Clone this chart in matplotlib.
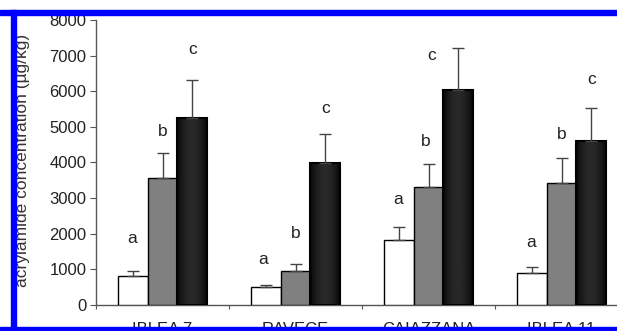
import matplotlib
matplotlib.use("Agg")
import matplotlib.pyplot as plt
import numpy as np
from matplotlib.patches import Rectangle

plt.rcParams['font.family'] = ['Liberation Sans', 'DejaVu Sans']

categories = ["IBLEA 7", "RAVECE", "CAIAZZANA", "IBLEA 11"]
series1 = [815, 515, 1825, 905]
series1_err = [150, 40, 360, 170]
series2 = [3560, 965, 3315, 3425]
series2_err = [700, 180, 645, 695]
series3 = [5240, 3995, 6035, 4615]
series3_err = [1065, 815, 1170, 905]
letters = ["a", "b", "c"]
letter_y = [[1880, 4860, 7160], [1290, 2010, 5520], [2950, 4590, 6990], [1760, 4790, 6320]]
letter_dx = [[0, 0, 0], [-0.02, 0, 0], [0, -0.02, -0.2], [0, 0, 0]]
yticks = [0, 1000, 2000, 3000, 4000, 5000, 6000, 7000, 8000]

W, H = 617, 331
fig = plt.figure(figsize=(W / 100, H / 100), dpi=100)
ax = fig.add_axes([96 / W, (H - 305) / H, (628 - 96) / W, (305 - 20) / H])

x = np.arange(len(categories)) + 0.5
bw = 0.225
offs = [-bw, 0, bw]
vals = [series1, series2, series3]
errs = [series1_err, series2_err, series3_err]
faces = ["white", "#808080", "none"]
axis_col = "#555555"

t = np.linspace(0, 1, 64)
black_profile = 0.03 + 0.13 * (1 - np.abs(2 * t - 1) ** 2)

for k in range(3):
    bars = ax.bar(x + offs[k], vals[k], width=bw, color=faces[k], edgecolor="black",
                  linewidth=1.0 if k < 2 else 1.5, zorder=3)
    for i, b in enumerate(bars):
        grad = None
        if k == 2:
            grad = black_profile
        elif k == 1 and i == 3:
            grad = 0.46 + 0.16 * t
        if grad is not None:
            x0 = b.get_x()
            im = ax.imshow(grad[None, :], cmap="gray", vmin=0, vmax=1, aspect="auto",
                           extent=(x0, x0 + bw, 0, b.get_height()), zorder=2,
                           interpolation="bilinear")
            im.set_clip_path(b)
    ax.errorbar(x + offs[k], vals[k], yerr=[np.zeros(4), errs[k]], fmt="none",
                ecolor="#444444", elinewidth=1.0, capsize=4.5, capthick=1.0, zorder=4)
    for i in range(4):
        ax.text(x[i] + offs[k] + letter_dx[i][k], letter_y[i][k], letters[k],
                ha="center", va="center", fontsize=12.5, color="#222222")

ax.set_xlim(0, 4)
ax.set_ylim(0, 8000)

for s in ["top", "right"]:
    ax.spines[s].set_visible(False)
for s in ["left", "bottom"]:
    ax.spines[s].set_color(axis_col)
    ax.spines[s].set_linewidth(1.0)

ax.set_yticks(yticks)
ax.set_yticklabels([str(v) for v in yticks], fontsize=12, color="#222222")
ax.set_xticks([0, 1, 2, 3, 4])
ax.set_xticklabels([])
ax.tick_params(axis="y", direction="out", length=4, color=axis_col, pad=3)
ax.tick_params(axis="x", direction="out", length=3, color=axis_col)
for i, c in enumerate(categories):
    ax.text(x[i], -0.058, c, transform=ax.get_xaxis_transform(), ha="center", va="top",
            fontsize=12, color="#222222")

fig.text(23 / W, 1 - 160 / H, "acrylamide concentration (µg/kg)", rotation=90,
         ha="center", va="center", fontsize=12.5, color="#333333")

# blue frame
blue = "#0000ff"
fig.patches.append(Rectangle((0, 1 - 15 / H), 1, 5 / H, transform=fig.transFigure,
                             color=blue, zorder=10))
fig.patches.append(Rectangle((11 / W, 0), 5 / W, 1 - 10 / H, transform=fig.transFigure,
                             color=blue, zorder=10))
fig.patches.append(Rectangle((0, 0), 1, 4 / H, transform=fig.transFigure,
                             color=blue, zorder=10))
fig.patches.append(Rectangle((0, 0), 11 / W, 1, transform=fig.transFigure,
                             color="white", zorder=9))
fig.patches.append(Rectangle((0, 1 - 10 / H), 1, 10 / H, transform=fig.transFigure,
                             color="white", zorder=9))

fig.savefig("out.png", dpi=100)
